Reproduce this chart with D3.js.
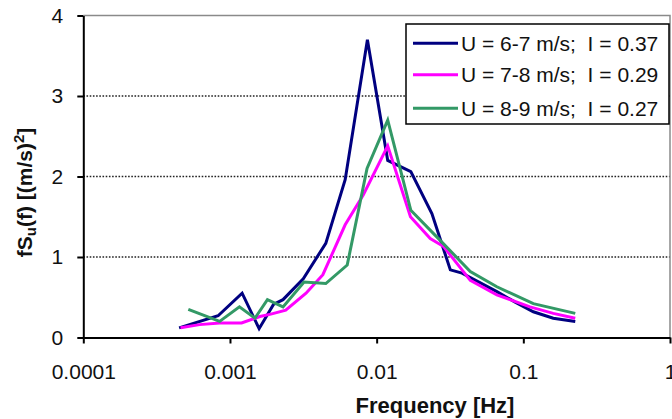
<!DOCTYPE html>
<html>
<head>
<meta charset="utf-8">
<script src="https://cdn.jsdelivr.net/npm/d3@7"></script>
<style>
  html, body { margin: 0; padding: 0; background: #fff; }
  svg { display: block; }
  text { font-family: "Liberation Sans", Arial, sans-serif; fill: #111; }
</style>
</head>
<body>
<svg id="chart" width="672" height="419"></svg>
<script>
// ---- data ----
const xTickValues = [0.0001, 0.001, 0.01, 0.1, 1];
const xTickLabels = ["0.0001", "0.001", "0.01", "0.1", "1"];
const yTickValues = [0, 1, 2, 3, 4];
const gridValues = [1, 2, 3];

const seriesNames = ["U = 6-7 m/s;  I = 0.37", "U = 7-8 m/s;  I = 0.29", "U = 8-9 m/s;  I = 0.27"];
const seriesColors = ["#000080", "#ff00ff", "#339966"];

const blueFreq = [0.00045, 0.00083, 0.00121, 0.00158, 0.00198, 0.0023, 0.00316, 0.0045, 0.0061, 0.00865, 0.0119, 0.0171, 0.0238, 0.0318, 0.0382, 0.066, 0.088, 0.117, 0.16, 0.226];
const blueVal  = [0.12, 0.27, 0.55, 0.11, 0.41, 0.47, 0.73, 1.17, 1.96, 3.70, 2.20, 2.06, 1.54, 0.84, 0.80, 0.57, 0.44, 0.32, 0.24, 0.20];

const pinkFreq = [0.00046, 0.00062, 0.00085, 0.0012, 0.0016, 0.0019, 0.0024, 0.0033, 0.0043, 0.0061, 0.0081, 0.0119, 0.017, 0.0232, 0.0286, 0.0435, 0.066, 0.111, 0.16, 0.226];
const pinkVal  = [0.12, 0.16, 0.18, 0.18, 0.26, 0.29, 0.34, 0.55, 0.78, 1.40, 1.77, 2.38, 1.50, 1.23, 1.13, 0.71, 0.53, 0.38, 0.30, 0.24];

const greenFreq = [0.00052, 0.00085, 0.00116, 0.00148, 0.0018, 0.0023, 0.0032, 0.0045, 0.0063, 0.0086, 0.0119, 0.0171, 0.027, 0.0435, 0.066, 0.117, 0.226];
const greenVal  = [0.35, 0.20, 0.38, 0.24, 0.47, 0.38, 0.69, 0.67, 0.90, 2.10, 2.70, 1.58, 1.21, 0.82, 0.63, 0.42, 0.30];

const seriesFreqs = [blueFreq, pinkFreq, greenFreq];
const seriesVals = [blueVal, pinkVal, greenVal];

// ---- layout ----
const svg = d3.select("#chart");
const plotLeft = 83.3, plotRight = 670, plotTop = 15.5, plotBottom = 337.5;

const x = d3.scaleLog().domain([0.0001, 1]).range([plotLeft, plotRight]);
const y = d3.scaleLinear().domain([0, 4]).range([plotBottom, plotTop]);

// gridlines
svg.append("g").selectAll("line").data(gridValues).join("line")
  .attr("x1", plotLeft).attr("x2", plotRight)
  .attr("y1", d => y(d)).attr("y2", d => y(d))
  .attr("stroke", "#222").attr("stroke-width", 1.3)
  .attr("stroke-dasharray", "1.6,1.6");

// top and right border
svg.append("path")
  .attr("d", `M${plotLeft},${y(4)}H${plotRight}V${plotBottom}`)
  .attr("fill", "none").attr("stroke", "#8a8a8a").attr("stroke-width", 1.5);

// lines
const line = d3.line().x(d => x(d[0])).y(d => y(d[1]));
seriesFreqs.forEach((fr, i) => {
  const pts = fr.map((f, j) => [f, seriesVals[i][j]]);
  svg.append("path").datum(pts)
    .attr("d", line)
    .attr("fill", "none")
    .attr("stroke", seriesColors[i])
    .attr("stroke-width", 3)
    .attr("stroke-linejoin", "miter");
});

// axes
const xAxis = d3.axisBottom(x).tickValues(xTickValues)
  .tickFormat((d, i) => xTickLabels[i]).tickSize(6).tickSizeOuter(0).tickPadding(21);
const gx = svg.append("g").attr("transform", `translate(0,${plotBottom})`).call(xAxis);
gx.select(".domain").attr("stroke", "#000").attr("stroke-width", 2);
gx.selectAll(".tick line").attr("stroke", "#000").attr("stroke-width", 2);
gx.selectAll("text").style("font-size", "21px").attr("fill", "#111");

const yAxis = d3.axisLeft(y).tickValues(yTickValues).tickFormat(d3.format("d"))
  .tickSize(6).tickSizeOuter(0).tickPadding(14);
const gy = svg.append("g").attr("transform", `translate(${plotLeft},0)`).call(yAxis);
gy.select(".domain").attr("stroke", "#000").attr("stroke-width", 2);
gy.selectAll(".tick line").attr("stroke", "#000").attr("stroke-width", 2);
gy.selectAll("text").style("font-size", "21px").attr("fill", "#111");

// axis titles
svg.append("text")
  .attr("x", 435).attr("y", 413)
  .attr("text-anchor", "middle")
  .style("font-size", "22px").style("font-weight", "bold")
  .text("Frequency [Hz]");

const yl = svg.append("text")
  .attr("transform", "translate(32,192.5) rotate(-90)")
  .attr("text-anchor", "middle")
  .style("font-size", "21px").style("font-weight", "bold");
yl.append("tspan").text("fS");
yl.append("tspan").text("u").style("font-size", "15px").attr("dy", 4);
yl.append("tspan").text("(f) [(m/s)").attr("dy", -4);
yl.append("tspan").text("2").style("font-size", "15px").attr("dy", -8);
yl.append("tspan").text("]").attr("dy", 8);

// legend
const lg = svg.append("g");
lg.append("rect").attr("x", 406).attr("y", 24).attr("width", 263).attr("height", 100)
  .attr("fill", "#fff").attr("stroke", "#000").attr("stroke-width", 1.5);
const legY = [43.3, 74.8, 108.3];
seriesNames.forEach((n, i) => {
  lg.append("line").attr("x1", 413).attr("x2", 458)
    .attr("y1", legY[i]).attr("y2", legY[i])
    .attr("stroke", seriesColors[i]).attr("stroke-width", 3);
  lg.append("text").attr("x", 461).attr("y", legY[i] + 7.5)
    .attr("xml:space", "preserve").style("white-space", "pre")
    .style("font-size", "21px").text(n);
});
</script>
</body>
</html>
